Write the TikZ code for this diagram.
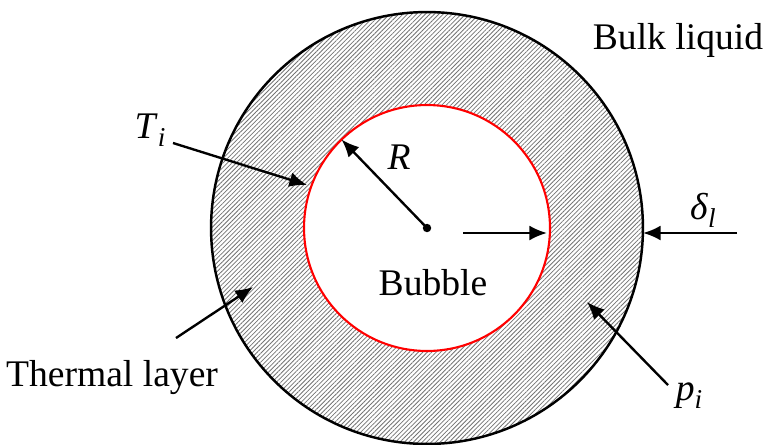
\documentclass[tikz,border=0pt]{standalone}
\usepackage{fontspec}
\setmainfont{Liberation Serif}
\usetikzlibrary{arrows.meta,patterns.meta,calc}
\newcommand{\subsym}[2]{\textit{#1}\raisebox{-0.45ex}{\fontsize{15.5}{15.5}\selectfont\textit{#2}}}
\tikzset{
	tag/.style = {inner sep = 1pt, font = \fontsize{21.4}{26}\selectfont},
	pointer/.style = {line width = 1.35pt, -{Latex[length = 10pt, width = 8.5pt]}},
	hatch/.style = {pattern = {Lines[angle = 45, distance = 1.8pt, line width = 0.45pt]}, pattern color = black!55}
}
\begin{document}
\begin{tikzpicture}[x = 0.02cm, y = -0.02cm]
	\useasboundingbox (0, 0) rectangle (774, 444);
	% thermal layer and bubble
	\coordinate (centre) at (427, 228);
	\fill [hatch, even odd rule] (centre) circle (4.32cm) (centre) circle (2.46cm);
	\draw [line width = 1.4pt] (centre) circle (4.32cm);
	\draw [red, line width = 1.2pt] (centre) circle (2.46cm);
	\fill (centre) circle (2.4pt);
	% points on the circles
	\coordinate (rtip) at ($(centre) + (134:2.46cm)$);
	\coordinate (tiTip) at (307, 185);
	\coordinate (bubbleEdge) at (547, 233);
	\coordinate (layerEdge) at (643, 233);
	\coordinate (layerTip) at (253, 287);
	\coordinate (piTip) at (587, 302);
	\coordinate (gapStart) at (463, 233);
	\coordinate (deltaStart) at (737, 233);
	% labels
	\node [tag] (bulk) at (678, 40) {Bulk liquid};
	\node [tag] (bubble) at (433, 283) {Bubble};
	\node [tag] (thermal) at (112, 378) {Thermal layer};
	\node [tag] (ti) at (150, 130) {\subsym{T}{i}};
	\node [tag] (radius) at (399, 157) {\textit{R}};
	\node [tag] (delta) at (703, 210) {\subsym{δ}{l}};
	\node [tag] (pi) at (689, 396) {\subsym{p}{i}};
	% arrows
	\draw [pointer] (centre) -- (rtip);
	\draw [pointer] (173, 143) -- (tiTip);
	\draw [pointer] (gapStart) -- (bubbleEdge);
	\draw [pointer] (deltaStart) -- (layerEdge);
	\draw [pointer] (176, 338) -- (layerTip);
	\draw [pointer] (668, 385) -- (piTip);
\end{tikzpicture}
\end{document}
